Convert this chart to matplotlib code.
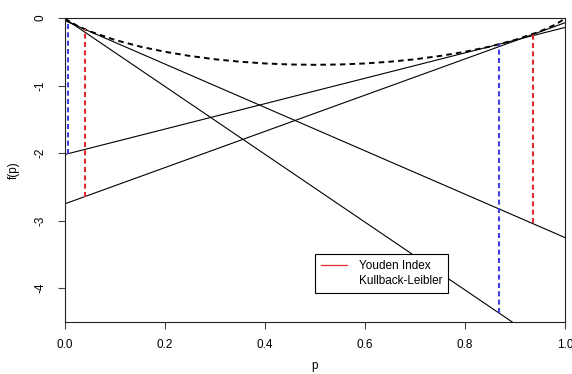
import matplotlib
matplotlib.use("Agg")
import matplotlib.pyplot as plt
from matplotlib.lines import Line2D

plt.rcParams['font.family'] = ['Liberation Sans', 'DejaVu Sans']
plt.rcParams['lines.scale_dashes'] = False

# dashed convex curve f(p)
curve_p = [0.0, 0.002, 0.005, 0.01, 0.025, 0.05, 0.1, 0.15, 0.2, 0.25, 0.3, 0.35, 0.4,
           0.45, 0.5, 0.55, 0.6, 0.65, 0.7, 0.75, 0.8, 0.85, 0.9, 0.95, 0.975, 0.99,
           0.995, 0.998, 1.0]
curve_f = [0.0, -0.014, -0.031, -0.056, -0.117, -0.199, -0.325, -0.423, -0.500, -0.562,
           -0.611, -0.647, -0.673, -0.688, -0.693, -0.688, -0.673, -0.647, -0.611, -0.562,
           -0.500, -0.423, -0.325, -0.199, -0.117, -0.056, -0.031, -0.014, 0.0]

# straight solid lines: value at p=0 and at p=1
line_p = [0.0, 1.0]
line_a = [-2.02, -0.14]
line_b = [-2.75, -0.07]
line_c = [-0.04, -3.25]
line_d = [-0.01, -5.03]

# vertical dashed segments: position, top, bottom
youden_p = [0.039, 0.936]
youden_top = [-0.17, -0.24]
youden_bot = [-2.65, -3.04]
kl_p = [0.0065, 0.867]
kl_top = [-0.04, -0.39]
kl_bot = [-2.01, -4.37]

xticks = [0.0, 0.2, 0.4, 0.6, 0.8, 1.0]
xticklabels = ["0.0", "0.2", "0.4", "0.6", "0.8", "1.0"]
yticks = [0, -1, -2, -3, -4]
yticklabels = ["0", "-1", "-2", "-3", "-4"]

RED = '#e42b2b'
BLUE = '#4040e0'

fig = plt.figure(figsize=(5.72, 3.74), dpi=100)
ax = fig.add_axes([65/572, 1-322/374, 500/572, 304/374])

for ys in (line_a, line_b, line_c, line_d):
    ax.plot(line_p, ys, color='black', lw=0.8, solid_capstyle='butt')

ax.plot(curve_p, curve_f, color='black', lw=1.4, linestyle=(0, (4.0, 3.0)))

ax.vlines(youden_p, youden_bot, youden_top, colors=RED, lw=1.5, linestyles=[(0, (3.6, 2.4))])
ax.vlines(kl_p, kl_bot, kl_top, colors=BLUE, lw=1.5, linestyles=[(0, (3.6, 2.4))])

ax.set_xlim(0, 1)
ax.set_ylim(-4.5, 0)
ax.set_xticks(xticks)
ax.set_xticklabels(xticklabels)
ax.set_yticks(yticks)
ax.set_yticklabels(yticklabels, rotation=90, va='center')
ax.tick_params(axis='both', direction='out', length=5, width=0.8, color='#444444',
               labelsize=8.5)
ax.tick_params(axis='x', pad=7)
ax.tick_params(axis='y', pad=8)
for s in ax.spines.values():
    s.set_linewidth(0.8)
    s.set_color('#222222')

ax.set_xlabel('p', fontsize=8.5, labelpad=7)
ax.set_ylabel('f(p)', fontsize=8.5, labelpad=11)

handles = [Line2D([], [], color=RED, lw=0.9), Line2D([], [], color='none', lw=0.9)]
leg = ax.legend(handles, ['Youden Index', 'Kullback-Leibler'], loc='upper left',
                bbox_to_anchor=(0.5, 0.2237), borderaxespad=0, fancybox=False,
                edgecolor='black', framealpha=1, fontsize=8.5, handlelength=2.2,
                handletextpad=1.0, borderpad=0.5, labelspacing=0.25)
leg.get_frame().set_linewidth(0.8)

fig.savefig('out.png', dpi=100)
